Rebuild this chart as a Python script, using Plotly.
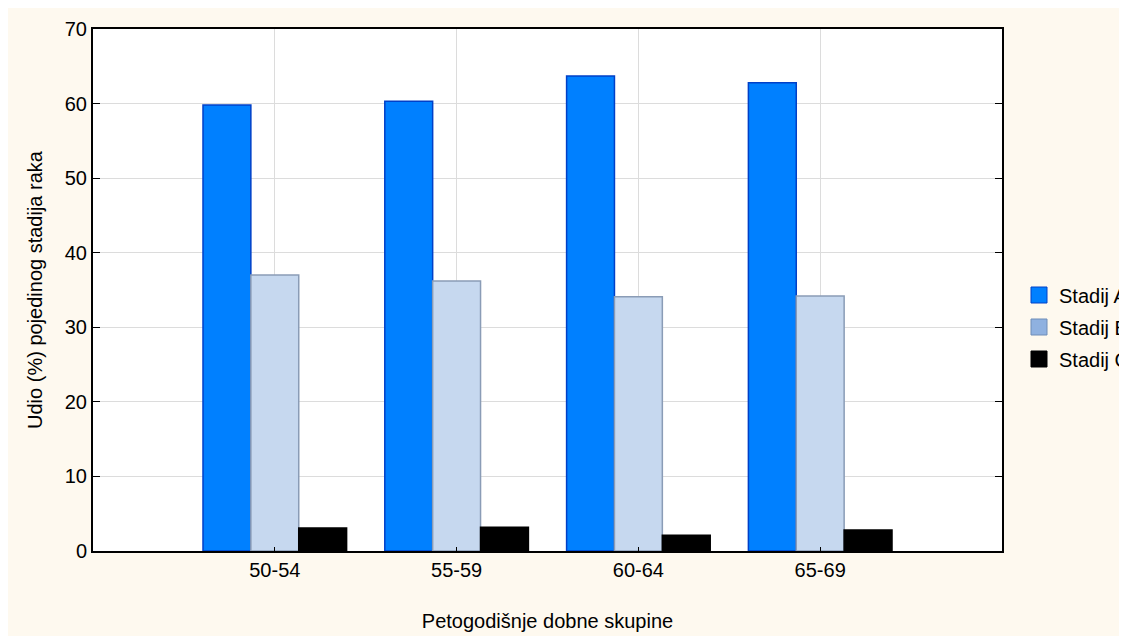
import plotly.graph_objects as go

categories = ["50-54", "55-59", "60-64", "65-69"]
stadij_a = [59.8, 60.3, 63.7, 62.8]
stadij_b = [37.0, 36.2, 34.1, 34.2]
stadij_c = [3.1, 3.2, 2.1, 2.8]
series_names = ["Stadij A", "Stadij B", "Stadij C"]
y_ticks = [0, 10, 20, 30, 40, 50, 60, 70]

# figure sits inside the page body (8px default margin)
W, H = 1119, 628
ML, MR, MT, MB = 85, 125, 21, 85

FONT = "Liberation Sans, Arial, sans-serif"
FS = 20
CREAM = "#FEF9EF"

fig = go.Figure()

bar_styles = [
    ("#0080FF", "#0040C8"),
    ("#C6D8EF", "#8A9CB6"),
    ("#000000", "#000000"),
]
legend_fill = ["#0080FF", "#8FB1E0", "#000000"]
legend_line = ["#0040C8", "#6F8DB8", "#000000"]

for name, vals, (fc, lc) in zip(series_names, [stadij_a, stadij_b, stadij_c], bar_styles):
    fig.add_trace(go.Bar(
        x=categories, y=vals, name=name, showlegend=False,
        marker=dict(color=fc, line=dict(color=lc, width=1.5)),
        hoverinfo="x+y+name",
    ))

for name, fc, lc in zip(series_names, legend_fill, legend_line):
    fig.add_trace(go.Scatter(
        x=[None], y=[None], name=name, mode="markers", showlegend=True,
        legendgroup=name,
        marker=dict(symbol="square", size=19, color=fc, line=dict(color=lc, width=1)),
    ))

fig.update_layout(
    width=W, height=H,
    margin=dict(l=ML, r=MR, t=MT, b=MB, autoexpand=False),
    paper_bgcolor=CREAM,
    plot_bgcolor="white",
    barmode="group",
    bargap=0.21,
    bargroupgap=0.0,
    font=dict(family=FONT, size=FS, color="#000000"),
    legend=dict(
        xref="container", yref="container",
        x=1011 / W, xanchor="left",
        y=1 - 319 / H, yanchor="middle",
        bgcolor="rgba(0,0,0,0)",
        font=dict(family=FONT, size=FS, color="#000000"),
        tracegroupgap=3,
        itemsizing="trace",
    ),
    xaxis=dict(
        type="category",
        range=[-1, 4],
        automargin=False,
        showline=True, linecolor="#000000", linewidth=2, mirror=True,
        ticks="inside", ticklen=4, tickcolor="#000000", tickwidth=1,
        showgrid=True, gridcolor="#DCDCDC", gridwidth=1,
        tickfont=dict(family=FONT, size=FS, color="#000000"),
        title=dict(text="Petogodišnje dobne skupine", standoff=34,
                   font=dict(family=FONT, size=FS, color="#000000")),
    ),
    yaxis=dict(
        range=[0, 70],
        tickvals=y_ticks,
        automargin=False,
        showline=True, linecolor="#000000", linewidth=2, mirror="ticks",
        ticks="inside", ticklen=7, tickcolor="#000000", tickwidth=1,
        showgrid=True, gridcolor="#DCDCDC", gridwidth=1,
        zeroline=False,
        tickfont=dict(family=FONT, size=FS, color="#000000"),
        title=dict(text="Udio (%) pojedinog stadija raka", standoff=17,
                   font=dict(family=FONT, size=FS, color="#000000")),
    ),
)

fig.write_html(
    "out.html",
    post_script="document.documentElement.style.overflow='hidden';document.body.style.overflow='hidden';",
)
